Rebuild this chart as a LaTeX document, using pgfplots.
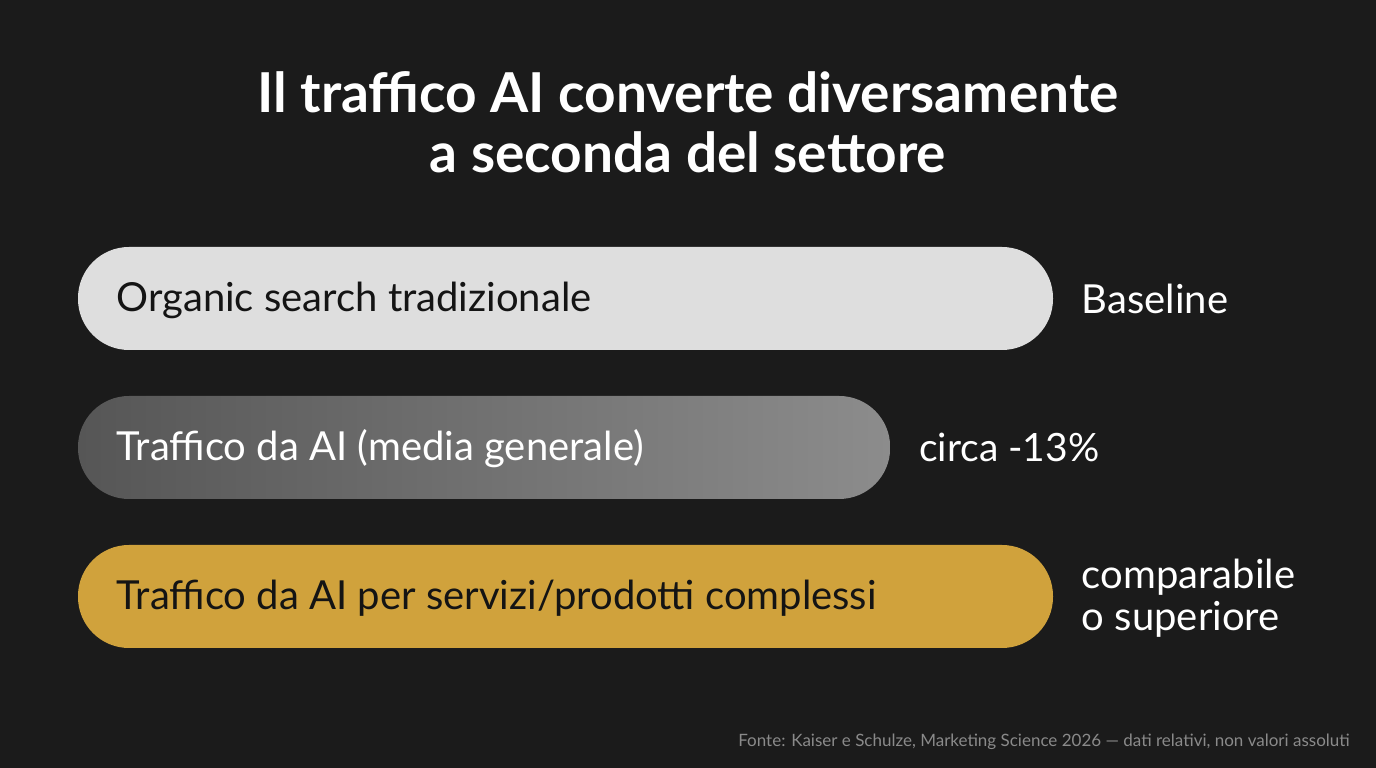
\documentclass[border=0pt]{standalone}
\usepackage{pgfplots}
\pgfplotsset{compat=1.18}
\usepackage{fontspec}
\setmainfont{Lato}

\definecolor{bg}{HTML}{1B1B1B}
\definecolor{barlight}{HTML}{DEDEDE}
\definecolor{bargrayL}{HTML}{565656}
\definecolor{bargrayR}{HTML}{8C8C8C}
\definecolor{bargold}{HTML}{D0A23C}
\definecolor{inktext}{HTML}{141414}
\definecolor{foot}{HTML}{8A8A8A}

\begin{document}
\begin{tikzpicture}
\begin{axis}[
    width=1376pt, height=768pt,
    scale only axis,
    xmin=-8, xmax=133.128,
    ymin=0, ymax=768,
    hide axis,
    clip=false,
    axis background/.style={fill=bg},
    xbar,
    bar width=103pt,
    bar shift=0pt,
]

% organic search (baseline)
\addplot[draw=none, fill=barlight, rounded corners=51pt]
    coordinates {(100,469.5)};
% AI traffic, overall average
\addplot[draw=none, left color=bargrayL, right color=bargrayR, rounded corners=51pt]
    coordinates {(83.3,320.5)};
% AI traffic, complex services/products
\addplot[draw=none, fill=bargold, rounded corners=51pt]
    coordinates {(100,171.5)};

% title
\node[anchor=base, text=white, font=\fontsize{55}{60}\selectfont\bfseries]
    at (axis cs:62.56,655) {Il traffico AI converte diversamente};
\node[anchor=base, text=white, font=\fontsize{55}{60}\selectfont\bfseries]
    at (axis cs:62.56,595) {a seconda del settore};

% labels inside bars
\node[anchor=west, text=inktext, font=\fontsize{40}{48}\selectfont]
    at (axis cs:3.6,468) {Organic search tradizionale};
\node[anchor=west, text=white, font=\fontsize{40}{48}\selectfont]
    at (axis cs:3.6,319) {Traffico da AI (media generale)};
\node[anchor=west, text=inktext, font=\fontsize{40}{48}\selectfont]
    at (axis cs:3.6,170) {Traffico da AI per servizi/prodotti complessi};

% value labels
\node[anchor=west, text=white, font=\fontsize{40}{48}\selectfont]
    at (axis cs:102.6,469.5) {Baseline};
\node[anchor=west, text=white, font=\fontsize{39}{48}\selectfont]
    at (axis cs:85.9,320.5) {circa -13\%};
\node[anchor=west, text=white, align=left, font=\fontsize{40}{42}\selectfont]
    at (axis cs:102.6,170) {comparabile\\o superiore};

% source note
\node[anchor=base east, text=foot, font=\fontsize{17}{20}\selectfont]
    at (axis cs:130.8,21) {Fonte: Kaiser e Schulze, Marketing Science 2026 — dati relativi, non valori assoluti};
\end{axis}
\end{tikzpicture}
\end{document}
